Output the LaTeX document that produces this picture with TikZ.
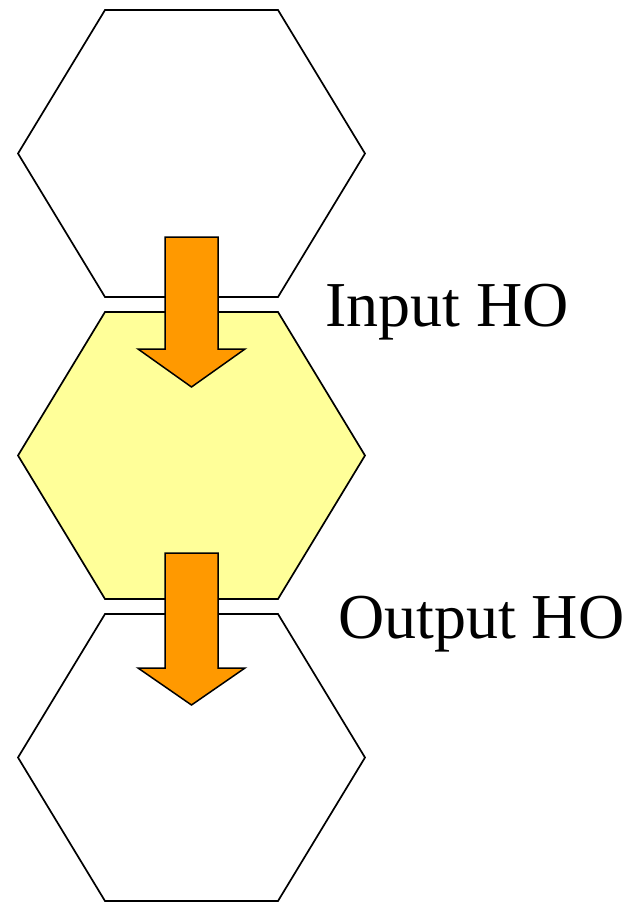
\documentclass[tikz,border=0pt]{standalone}
\usepackage{fontspec}
\setmainfont{Liberation Serif}
\begin{document}
\begin{tikzpicture}[x=1pt,y=-1pt,
  hexbox/.style={draw=black,line width=1.7pt,line join=miter},
  arrowbox/.style={draw=black,fill=arroworange,line width=1.5pt,line join=miter},
  lbl/.style={anchor=base west,inner sep=0pt,font=\fontsize{64}{70}\selectfont}]
\definecolor{arroworange}{HTML}{FF9900}
\definecolor{hexyellow}{HTML}{FFFF99}
\useasboundingbox (0,0) rectangle (629,902);
% hexagons
\draw[hexbox,fill=white] (105,10) -- (278,10) -- (365,153.5) -- (278,297) -- (105,297) -- (18,153.5) -- cycle;
\draw[hexbox,fill=hexyellow] (105,312) -- (278,312) -- (365,455.5) -- (278,599) -- (105,599) -- (18,455.5) -- cycle;
\draw[hexbox,fill=white] (105,614) -- (278,614) -- (365,757.5) -- (278,901) -- (105,901) -- (18,757.5) -- cycle;
% arrows
\draw[arrowbox] (165,237) -- (218,237) -- (218,349) -- (245,349) -- (191.5,387) -- (138,349) -- (165,349) -- cycle;
\draw[arrowbox] (165,553) -- (218,553) -- (218,668) -- (245,668) -- (191.5,705) -- (138,668) -- (165,668) -- cycle;
% labels
\node[lbl] (inho) at (325,326) {Input HO};
\node[lbl] (outho) at (338,638) {Output HO};
\end{tikzpicture}
\end{document}
